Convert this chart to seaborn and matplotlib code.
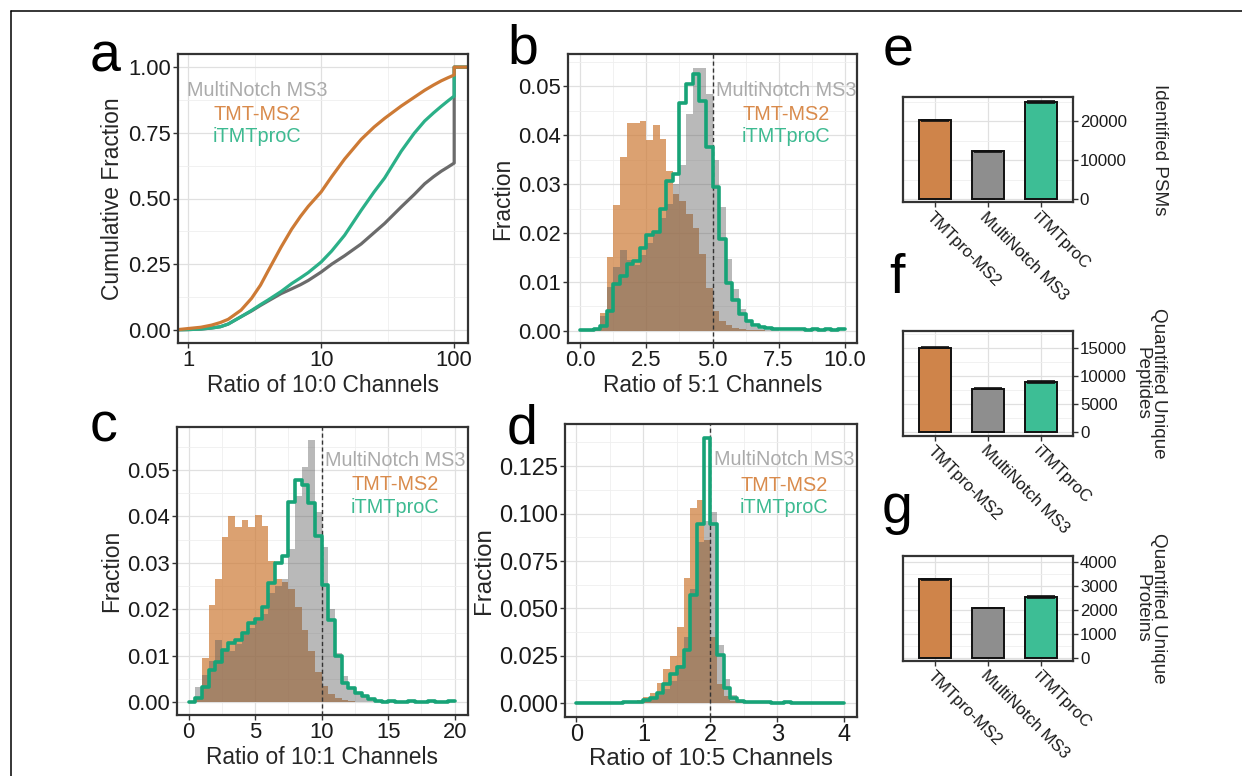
import numpy as np
import pandas as pd
import matplotlib
matplotlib.use("Agg")
import matplotlib.pyplot as plt
from matplotlib.lines import Line2D
from matplotlib.ticker import FixedLocator
import seaborn as sns

sns.set_theme(style="white")
plt.rcParams["font.family"] = ["Liberation Sans", "DejaVu Sans"]

# ---------------------------------------------------------------- data
METHODS = ["MultiNotch MS3", "TMT-MS2", "iTMTproC"]
BAR_CATEGORIES = ["TMTpro-MS2", "MultiNotch MS3", "iTMTproC"]

# (a) cumulative fraction of the 10:0 channel ratio
ecdf_ratio = [0.8, 1, 1.25, 1.5, 1.75, 2, 2.5, 3, 3.5, 4, 5, 6, 7, 8, 10, 12, 15,
              20, 25, 30, 40, 50, 60, 70, 80, 90, 100, 100, 130]
ecdf_ms3 = [0, 0.001, 0.003, 0.007, 0.012, 0.022, 0.050, 0.072, 0.093, 0.110, 0.138,
            0.156, 0.172, 0.188, 0.220, 0.250, 0.282, 0.327, 0.370, 0.405, 0.468,
            0.515, 0.556, 0.583, 0.604, 0.620, 0.635, 1.0, 1.0]
ecdf_ms2 = [0, 0.005, 0.010, 0.018, 0.028, 0.040, 0.075, 0.120, 0.170, 0.225, 0.315,
            0.383, 0.432, 0.470, 0.525, 0.583, 0.650, 0.725, 0.772, 0.805, 0.852,
            0.885, 0.912, 0.932, 0.948, 0.960, 0.970, 1.0, 1.0]
ecdf_itmt = [0, 0.001, 0.003, 0.007, 0.012, 0.022, 0.050, 0.074, 0.096, 0.114, 0.146,
             0.176, 0.198, 0.218, 0.258, 0.300, 0.360, 0.455, 0.525, 0.578, 0.680,
             0.748, 0.795, 0.826, 0.851, 0.872, 0.890, 1.0, 1.0]

# (b) fraction per bin, 5:1 channel ratio (40 bins over 0-10)
frac51_ms3 = [0, 0.0001, 0.0004, 0.0030, 0.0090, 0.0130, 0.0165, 0.0145, 0.0135, 0.0155,
              0.0180, 0.0205, 0.0230, 0.0260, 0.0300, 0.0340, 0.0444, 0.0538, 0.0538, 0.0485,
              0.0350, 0.0254, 0.0146, 0.0085, 0.0044, 0.0017, 0.0008, 0.0004, 0.0002, 0.0001,
              0, 0, 0, 0, 0, 0, 0, 0, 0, 0]
frac51_ms2 = [0, 0.0001, 0.0005, 0.0037, 0.0150, 0.0258, 0.0356, 0.0424, 0.0424, 0.0428,
              0.0390, 0.0420, 0.0392, 0.0326, 0.0280, 0.0265, 0.0238, 0.0210, 0.0156, 0.0088,
              0.0040, 0.0020, 0.0012, 0.0006, 0.0004, 0.0002, 0.0001, 0.0001, 0, 0,
              0, 0, 0, 0, 0, 0, 0, 0, 0, 0]
frac51_itmt = [0.0002, 0.0002, 0.0003, 0.0010, 0.0040, 0.0095, 0.0113, 0.0136, 0.0142, 0.0170,
               0.0196, 0.0202, 0.0250, 0.0307, 0.0320, 0.0465, 0.0505, 0.0526, 0.0470, 0.0376,
               0.0295, 0.0187, 0.0098, 0.0062, 0.0035, 0.0020, 0.0012, 0.0008, 0.0005, 0.0004,
               0.0003, 0.0004, 0.0003, 0.0004, 0.0002, 0.0003, 0.0002, 0.0003, 0.0002, 0.0004]

# (c) fraction per bin, 10:1 channel ratio (40 bins over 0-20)
frac101_ms3 = [0, 0.0034, 0.0060, 0.0090, 0.0135, 0.0110, 0.0110, 0.0125, 0.0145, 0.0160,
               0.0175, 0.0190, 0.0235, 0.0250, 0.0265, 0.0330, 0.0445, 0.0507, 0.0564, 0.0410,
               0.0335, 0.0200, 0.0106, 0.0056, 0.0034, 0.0020, 0.0012, 0.0007, 0.0004, 0.0002,
               0.0001, 0, 0, 0, 0, 0, 0, 0, 0, 0]
frac101_ms2 = [0, 0.0010, 0.0095, 0.0210, 0.0265, 0.0355, 0.0402, 0.0378, 0.0392, 0.0378,
               0.0403, 0.0380, 0.0305, 0.0265, 0.0258, 0.0245, 0.0205, 0.0155, 0.0110, 0.0065,
               0.0035, 0.0018, 0.0010, 0.0006, 0.0003, 0.0002, 0.0001, 0, 0, 0,
               0, 0, 0, 0, 0, 0, 0, 0, 0, 0]
frac101_itmt = [0.0002, 0.0010, 0.0034, 0.0070, 0.0088, 0.0113, 0.0128, 0.0135, 0.0149, 0.0170,
                0.0180, 0.0206, 0.0256, 0.0300, 0.0314, 0.0432, 0.0479, 0.0468, 0.0428, 0.0357,
                0.0253, 0.0178, 0.0099, 0.0042, 0.0031, 0.0020, 0.0013, 0.0008, 0.0004, 0.0002,
                0.0003, 0.0002, 0.0002, 0.0003, 0.0002, 0.0002, 0.0003, 0.0002, 0.0002, 0.0003]

# (d) fraction per bin, 10:5 channel ratio (40 bins over 0-4)
frac105_ms3 = [0, 0, 0, 0, 0, 0, 0.0001, 0.0002, 0.0004, 0.0008,
               0.0015, 0.0025, 0.0045, 0.0075, 0.0120, 0.0200, 0.0350, 0.0600, 0.0850, 0.0960,
               0.1010, 0.0310, 0.0130, 0.0045, 0.0015, 0.0006, 0.0002, 0.0001, 0, 0,
               0, 0, 0, 0, 0, 0, 0, 0, 0, 0]
frac105_ms2 = [0, 0, 0, 0, 0, 0, 0.0001, 0.0003, 0.0008, 0.0018,
               0.0035, 0.0053, 0.0105, 0.0180, 0.0250, 0.0400, 0.0660, 0.1030, 0.1070, 0.0860,
               0.0350, 0.0100, 0.0040, 0.0015, 0.0006, 0.0003, 0.0001, 0, 0, 0,
               0, 0, 0, 0, 0, 0, 0, 0, 0, 0]
frac105_itmt = [0.0004, 0.0004, 0.0004, 0.0003, 0.0004, 0.0004, 0.0004, 0.0005, 0.0006, 0.0009,
                0.0016, 0.0028, 0.0055, 0.0100, 0.0155, 0.0190, 0.0280, 0.0570, 0.0945, 0.1400,
                0.0945, 0.0255, 0.0080, 0.0026, 0.0012, 0.0008, 0.0006, 0.0005, 0.0005, 0.0004,
                0.0004, 0.0005, 0.0004, 0.0004, 0.0004, 0.0003, 0.0004, 0.0004, 0.0003, 0.0004]

# (e-g) identification / quantification counts, order of BAR_CATEGORIES
psm_counts = [20300, 12300, 25000]
psm_err = [120, 80, 250]
peptide_counts = [15100, 7800, 9000]
peptide_err = [80, 60, 150]
protein_counts = [3270, 2070, 2520]
protein_err = [15, 20, 40]

# ---------------------------------------------------------------- styling
ORANGE = "#CD7A35"
GREEN_LINE = "#2BB088"
GREEN_STEP = "#17A377"
GRAY_LINE = "#6B6B6B"
GRAY_FILL = "#5A5A5A"
TEXT_COLORS = ["#ABABAB", "#D98B4C", "#3DBA91"]
BAR_COLORS = ["#CF844A", "#8E8E8E", "#3DBE95"]
FRAME = "#333333"

W, H = 1242, 776
fig = plt.figure(figsize=(W / 100, H / 100), dpi=100)


def box(x0, y0, x1, y1):
    return [x0 / W, 1 - y1 / H, (x1 - x0) / W, (y1 - y0) / H]


def style_axes(ax, tick_size, right=False):
    for s in ax.spines.values():
        s.set_visible(True)
        s.set_color(FRAME)
        s.set_linewidth(1.6)
    ax.set_axisbelow(True)
    ax.grid(True, which="major", color="#E0E0E0", linewidth=0.9)
    ax.grid(True, which="minor", color="#EFEFEF", linewidth=0.6)
    ax.tick_params(which="major", length=3.5, width=1.0, color=FRAME,
                   labelsize=tick_size, labelcolor="#1A1A1A", pad=1.5,
                   bottom=True, left=not right, right=right,
                   labelleft=not right, labelright=right)
    ax.tick_params(which="minor", length=0, bottom=False, left=False, right=False)


def method_labels(ax, xc, ys):
    for name, y, c in zip(METHODS, ys, TEXT_COLORS):
        ax.text(xc, y, name, transform=ax.transAxes, ha="center", va="center",
                color=c, fontsize=14.3, zorder=6)


# ---------------------------------------------------------------- (a)
ax_a = fig.add_axes(box(178, 54, 468, 343))
for vals, col in [(ecdf_ms3, GRAY_LINE), (ecdf_itmt, GREEN_LINE), (ecdf_ms2, ORANGE)]:
    sns.lineplot(x=ecdf_ratio, y=vals, sort=False, estimator=None, color=col,
                 linewidth=2.3, ax=ax_a)
ax_a.set_xscale("log")
ax_a.set_xlim(0.84, 127)
ax_a.set_ylim(-0.05, 1.05)
ax_a.set_xticks([1, 10, 100], ["1", "10", "100"])
ax_a.xaxis.set_minor_locator(FixedLocator([10 ** 0.5, 10 ** 1.5]))
ax_a.set_yticks([0, 0.25, 0.5, 0.75, 1.0], ["0.00", "0.25", "0.50", "0.75", "1.00"])
ax_a.yaxis.set_minor_locator(FixedLocator([0.125, 0.375, 0.625, 0.875]))
style_axes(ax_a, 15.8)
ax_a.set_xlabel("Ratio of 10:0 Channels", fontsize=16.4, labelpad=2)
ax_a.set_ylabel("Cumulative Fraction", fontsize=16.4, labelpad=3)
method_labels(ax_a, 0.272, [0.875, 0.789, 0.713])


# ---------------------------------------------------------------- (b)-(d)
def ratio_hist(ax, lo, hi, ms3, ms2, itmt, expected):
    width = (hi - lo) / len(ms3)
    centers = lo + width * (np.arange(len(ms3)) + 0.5)
    table = pd.DataFrame({"ratio": centers, "ms3": ms3, "ms2": ms2, "itmt": itmt})
    common = dict(data=table, x="ratio", binwidth=width, binrange=(lo, hi), ax=ax)
    sns.histplot(weights="ms2", element="step", fill=True, color=ORANGE, alpha=0.7,
                 linewidth=0, **common)
    sns.histplot(weights="ms3", element="step", fill=True, color=GRAY_FILL, alpha=0.42,
                 linewidth=0, **common)
    ax.axvline(expected, color="#333333", linewidth=1.0, linestyle=(0, (3, 2)), zorder=4)
    sns.histplot(weights="itmt", element="step", fill=False, color=GREEN_STEP,
                 linewidth=2.6, zorder=5, **common)


ax_b = fig.add_axes(box(568, 54, 857, 343))
ratio_hist(ax_b, 0, 10, frac51_ms3, frac51_ms2, frac51_itmt, 5)
ax_b.set_xlim(-0.47, 10.47)
ax_b.set_ylim(-0.0025, 0.0566)
ax_b.set_xticks([0, 2.5, 5, 7.5, 10], ["0.0", "2.5", "5.0", "7.5", "10.0"])
ax_b.xaxis.set_minor_locator(FixedLocator([1.25, 3.75, 6.25, 8.75]))
ax_b.set_yticks([0, 0.01, 0.02, 0.03, 0.04, 0.05],
                ["0.00", "0.01", "0.02", "0.03", "0.04", "0.05"])
ax_b.yaxis.set_minor_locator(FixedLocator([0.005, 0.015, 0.025, 0.035, 0.045, 0.055]))
style_axes(ax_b, 15.8)
ax_b.set_xlabel("Ratio of 5:1 Channels", fontsize=16.4, labelpad=2)
ax_b.set_ylabel("Fraction", fontsize=16.4, labelpad=3)
method_labels(ax_b, 0.754, [0.875, 0.789, 0.713])

ax_c = fig.add_axes(box(177, 426.7, 468, 715))
ratio_hist(ax_c, 0, 20, frac101_ms3, frac101_ms2, frac101_itmt, 10)
ax_c.set_xlim(-0.87, 21.0)
ax_c.set_ylim(-0.0027, 0.0593)
ax_c.set_xticks([0, 5, 10, 15, 20], ["0", "5", "10", "15", "20"])
ax_c.xaxis.set_minor_locator(FixedLocator([2.5, 7.5, 12.5, 17.5]))
ax_c.set_yticks([0, 0.01, 0.02, 0.03, 0.04, 0.05],
                ["0.00", "0.01", "0.02", "0.03", "0.04", "0.05"])
ax_c.yaxis.set_minor_locator(FixedLocator([0.005, 0.015, 0.025, 0.035, 0.045, 0.055]))
style_axes(ax_c, 15.8)
ax_c.set_xlabel("Ratio of 10:1 Channels", fontsize=16.4, labelpad=2)
ax_c.set_ylabel("Fraction", fontsize=16.4, labelpad=3)
method_labels(ax_c, 0.749, [0.884, 0.798, 0.721])

ax_d = fig.add_axes(box(565, 424.3, 857, 716.7))
ratio_hist(ax_d, 0, 4, frac105_ms3, frac105_ms2, frac105_itmt, 2)
ax_d.set_xlim(-0.17, 4.19)
ax_d.set_ylim(-0.007, 0.147)
ax_d.set_xticks([0, 1, 2, 3, 4], ["0", "1", "2", "3", "4"])
ax_d.xaxis.set_minor_locator(FixedLocator([0.5, 1.5, 2.5, 3.5]))
ax_d.set_yticks([0, 0.025, 0.05, 0.075, 0.1, 0.125],
                ["0.000", "0.025", "0.050", "0.075", "0.100", "0.125"])
ax_d.yaxis.set_minor_locator(FixedLocator([0.0125, 0.0375, 0.0625, 0.0875, 0.1125, 0.1375]))
style_axes(ax_d, 17)
ax_d.set_xlabel("Ratio of 10:5 Channels", fontsize=17.3, labelpad=2)
ax_d.set_ylabel("Fraction", fontsize=17.3, labelpad=3)
method_labels(ax_d, 0.75, [0.878, 0.792, 0.714])


# ---------------------------------------------------------------- (e)-(g)
def count_bars(ax, counts, errs, ylim, majors, minors, label, label_x):
    sns.barplot(x=BAR_CATEGORIES, y=counts, hue=BAR_CATEGORIES, palette=BAR_COLORS,
                saturation=1, legend=False, width=0.6, edgecolor="#111111",
                linewidth=1.4, errorbar=None, ax=ax)
    ax.errorbar(range(len(counts)), counts, yerr=errs, fmt="none", ecolor="#111111",
                elinewidth=1.2, capsize=10, capthick=1.2, zorder=4)
    ax.set_xlim(-0.6, 2.6)
    ax.set_ylim(*ylim)
    ax.set_yticks(majors, [str(v) for v in majors])
    ax.yaxis.set_minor_locator(FixedLocator(minors))
    style_axes(ax, 12.2, right=True)
    ax.tick_params(axis="x", labelsize=12)
    for t in ax.get_xticklabels():
        t.set_rotation(-45)
        t.set_ha("left")
        t.set_va("top")
        t.set_rotation_mode("anchor")
    ax.set_xlabel("")
    ax.yaxis.set_label_position("right")
    ax.set_ylabel(label, rotation=-90, fontsize=13.6, va="center", ha="center",
                  linespacing=1.0)
    ax.yaxis.set_label_coords(label_x, 0.5)


ax_e = fig.add_axes(box(902.7, 97.3, 1072.7, 202.3))
count_bars(ax_e, psm_counts, psm_err, (-860, 26180), [0, 10000, 20000],
           [5000, 15000, 25000], "Identified PSMs", 1.508)

ax_f = fig.add_axes(box(903, 331, 1073, 436))
count_bars(ax_f, peptide_counts, peptide_err, (-660, 18090), [0, 5000, 10000, 15000],
           [2500, 7500, 12500, 17500], "Quantified Unique\nPeptides", 1.453)

ax_g = fig.add_axes(box(903, 555.7, 1073, 661))
count_bars(ax_g, protein_counts, protein_err, (-140, 4250), [0, 1000, 2000, 3000, 4000],
           [500, 1500, 2500, 3500], "Quantified Unique\nProteins", 1.453)

# ---------------------------------------------------------------- panel letters and frame
for letter, px, py in [("a", 90, 72), ("b", 507, 63), ("c", 90, 442), ("d", 507, 443),
                       ("e", 883, 65), ("f", 889, 293), ("g", 882, 523)]:
    fig.text(px / W, 1 - py / H, letter, fontsize=40, ha="left", va="baseline",
             color="black")

fig.add_artist(Line2D([11 / W, 1], [1 - 11 / H, 1 - 11 / H], transform=fig.transFigure,
                      color="black", linewidth=1.1))
fig.add_artist(Line2D([11 / W, 11 / W], [0, 1 - 11 / H], transform=fig.transFigure,
                      color="black", linewidth=1.1))

fig.savefig("out.png", dpi=100, facecolor="white")
